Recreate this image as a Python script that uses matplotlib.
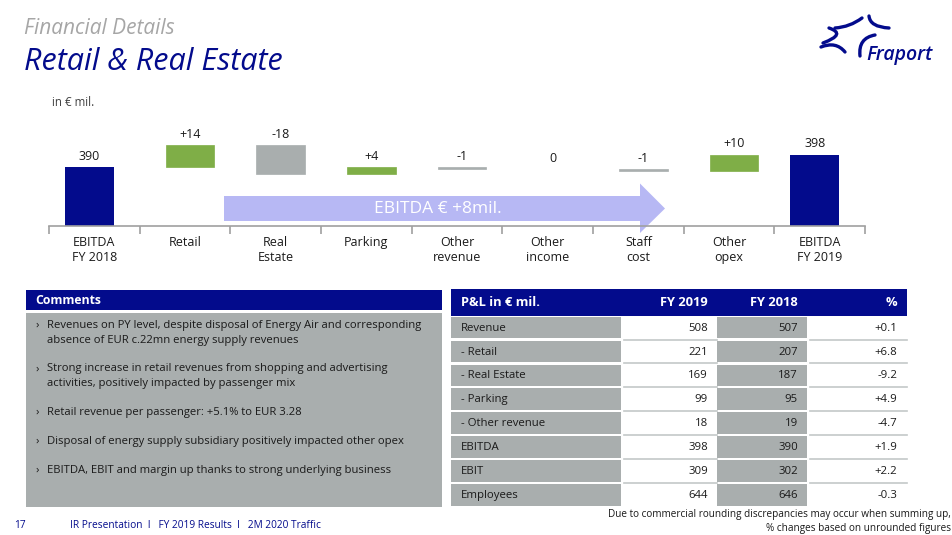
import matplotlib

matplotlib.use("Agg")
import matplotlib.pyplot as plt
import numpy as np
from matplotlib.patches import PathPatch, Polygon, Rectangle
from matplotlib.path import Path

W, H = 953, 535
NAVY = "#030B8C"
GREEN = "#7FAE47"
GRAY = "#A9AEAE"
LAVENDER = "#B7B8F4"
INK = "#1A1A1A"

# waterfall
categories = ["EBITDA\nFY 2018", "Retail", "Real\nEstate", "Parking", "Other\nrevenue",
              "Other\nincome", "Staff\ncost", "Other\nopex", "EBITDA\nFY 2019"]
ebitda_2018 = 390
ebitda_2019 = 398
deltas = [14, -18, 4, -1, 0, -1, 10]

# comments panel
comments = [
    "Revenues on PY level, despite disposal of Energy Air and corresponding\nabsence of EUR c.22mn energy supply revenues",
    "Strong increase in retail revenues from shopping and advertising\nactivities, positively impacted by passenger mix",
    "Retail revenue per passenger: +5.1% to EUR 3.28",
    "Disposal of energy supply subsidiary positively impacted other opex",
    "EBITDA, EBIT and margin up thanks to strong underlying business",
]

# P&L table
table_header = ["P&L in € mil.", "FY 2019", "FY 2018", "%"]
row_labels = ["Revenue", "- Retail", "- Real Estate", "- Parking", "- Other revenue",
              "EBITDA", "EBIT", "Employees"]
fy2019 = [508, 221, 169, 99, 18, 398, 309, 644]
fy2018 = [507, 207, 187, 95, 19, 390, 302, 646]
pct_change = [0.1, 6.8, -9.2, 4.9, -4.7, 1.9, 2.2, -0.3]


def draw_header(bg):
    bg.text(24, 28, "Financial Details", fontsize=15, style="italic", color="#A6A6A6", va="center")
    bg.text(24, 62, "Retail & Real Estate", fontsize=22, style="italic", color=NAVY, va="center")
    bg.text(52, 103, "in € mil.", fontsize=8.3, color="#404040", va="center")

    # rough Fraport logo swooshes
    strokes = [
        [(835, 28), (850, 27), (862, 18)],
        [(869, 16), (870, 27), (889, 28)],
        [(829, 28), (847, 34), (823, 43)],
        [(821, 47), (836, 41), (845, 52)],
        [(875, 35), (858, 38), (860, 56)],
    ]
    for pts in strokes:
        path = Path(pts, [Path.MOVETO, Path.CURVE3, Path.CURVE3])
        bg.add_patch(PathPatch(path, fill=False, edgecolor=NAVY, lw=2.4, capstyle="round"))
    bg.text(866, 60, "Fraport", fontsize=14, style="italic", fontweight="semibold",
            color=NAVY, va="baseline")


def draw_arrow(bg, change):
    pts = [(224, 196), (640, 196), (640, 183.5), (665, 208.5), (640, 233), (640, 221), (224, 221)]
    bg.add_patch(Polygon(pts, closed=True, facecolor=LAVENDER, edgecolor="none"))
    bg.text(438, 209, "EBITDA € {:+d}mil.".format(change), fontsize=12.5, color="white",
            ha="center", va="center")


def draw_waterfall(fig):
    ax = fig.add_axes([49 / W, (H - 226) / H, 816 / W, 116 / H])
    ax.patch.set_alpha(0)
    n = len(categories)
    x = np.arange(n)
    y0 = 353.4
    ax.set_xlim(-0.5, n - 0.5)
    ax.set_ylim(y0, y0 + 116 / 1.6)
    width = 0.54
    shift = 0.055  # bars sit a touch off the category centres in the original

    steps = np.cumsum([ebitda_2018] + deltas)
    ax.bar([0 - shift, n - 1 - shift], [ebitda_2018, ebitda_2019], width=width, color=NAVY)
    for i, d in enumerate(deltas):
        start = steps[i]
        xc = i + 1 + shift
        if d != 0:
            color = GREEN if d > 0 else GRAY
            ax.bar(xc, d, bottom=start, width=width, color=color, edgecolor=color, lw=0.5)
        top = max(start, start + d)
        label = "0" if d == 0 else "{:+d}".format(d)
        ax.annotate(label, (xc, top), xytext=(0, 3), textcoords="offset points",
                    ha="center", va="bottom", fontsize=9, color=INK)
    for i, v in [(0, ebitda_2018), (n - 1, ebitda_2019)]:
        ax.annotate(str(v), (i - shift, v), xytext=(0, 3), textcoords="offset points",
                    ha="center", va="bottom", fontsize=9, color=INK)

    for side in ["left", "right", "top"]:
        ax.spines[side].set_visible(False)
    ax.spines["bottom"].set_color("#A0A0A0")
    ax.spines["bottom"].set_linewidth(1.2)
    ax.set_yticks([])
    ax.set_xticks(x, labels=categories)
    ax.set_xticks(np.arange(n + 1) - 0.5, minor=True)
    ax.tick_params(axis="x", which="major", length=0, pad=7, labelsize=9, labelcolor=INK)
    ax.tick_params(axis="x", which="minor", length=6, width=1.2, color="#A0A0A0")
    for lbl in ax.get_xticklabels():
        lbl.set_linespacing(1.25)
    return ax


def draw_comments(bg):
    bg.add_patch(Rectangle((26, 290), 416, 20, facecolor=NAVY, edgecolor="none"))
    bg.text(35, 300, "Comments", fontsize=8.8, fontweight="bold", color="white", va="center")
    bg.add_patch(Rectangle((26, 313), 416, 194, facecolor=GRAY, edgecolor="none"))
    y = 325.5
    step = 14.5
    for item in comments:
        lines = item.split("\n")
        bg.text(36, y, "›", fontsize=8.2, color=INK, va="center")
        for k, line in enumerate(lines):
            bg.text(47, y + k * step, line, fontsize=8.15, color=INK, va="center")
        y += (len(lines) + 1) * step


def draw_table(bg):
    cols = [451, 622.5, 717, 808, 907]
    right_edges = [None, 708, 798, 897]
    top = 316.7
    pitch = 23.9
    bg.add_patch(Rectangle((cols[0], 289), cols[-1] - cols[0], 26.5, facecolor=NAVY, edgecolor="none"))
    for j, txt in enumerate(table_header):
        if j == 0:
            bg.text(461, 302.5, txt, fontsize=9.3, fontweight="bold", color="white", va="center")
        else:
            bg.text(right_edges[j], 302.5, txt, fontsize=9.3, fontweight="bold", color="white",
                    va="center", ha="right")

    for r, label in enumerate(row_labels):
        y = top + r * pitch
        for j in range(4):
            x_left, x_right = cols[j], cols[j + 1]
            if j in (0, 2):
                bg.add_patch(Rectangle((x_left, y), x_right - x_left - 1, pitch - 2.2,
                                       facecolor=GRAY, edgecolor="none"))
            elif r < len(row_labels) - 1:
                bg.plot([x_left + 2, x_right], [y + pitch - 1, y + pitch - 1],
                        color="#C4C8C8", lw=1.2)
        yc = y + pitch / 2 - 0.5
        bg.text(461, yc, label, fontsize=8.2, color=INK, va="center")
        bg.text(right_edges[1], yc, str(fy2019[r]), fontsize=8.2, color=INK, va="center", ha="right")
        bg.text(right_edges[2], yc, str(fy2018[r]), fontsize=8.2, color=INK, va="center", ha="right")
        bg.text(right_edges[3], yc, "{:+.1f}".format(pct_change[r]), fontsize=8.2, color=INK,
                va="center", ha="right")

    bg.text(951, 515, "Due to commercial rounding discrepancies may occur when summing up,",
            fontsize=7.2, color=INK, va="center", ha="right")
    bg.text(951, 528, "% changes based on unrounded figures", fontsize=7.2, color=INK,
            va="center", ha="right")


def draw_footer(bg):
    bg.text(14, 525, "17", fontsize=7.3, color=NAVY, va="center")
    bg.text(70, 525, "IR Presentation  I   FY 2019 Results  I   2M 2020 Traffic", fontsize=7.3,
            color=NAVY, va="center")


def main() -> None:
    plt.rcParams["font.family"] = ["Open Sans", "DejaVu Sans"]
    fig = plt.figure(figsize=(W / 100, H / 100), dpi=100)
    bg = fig.add_axes([0, 0, 1, 1])
    bg.set_xlim(0, W)
    bg.set_ylim(H, 0)
    bg.axis("off")

    draw_header(bg)
    draw_arrow(bg, ebitda_2019 - ebitda_2018)
    draw_comments(bg)
    draw_table(bg)
    draw_footer(bg)
    draw_waterfall(fig)

    fig.savefig("out.png", dpi=100)
    plt.close(fig)


if __name__ == "__main__":
    main()
